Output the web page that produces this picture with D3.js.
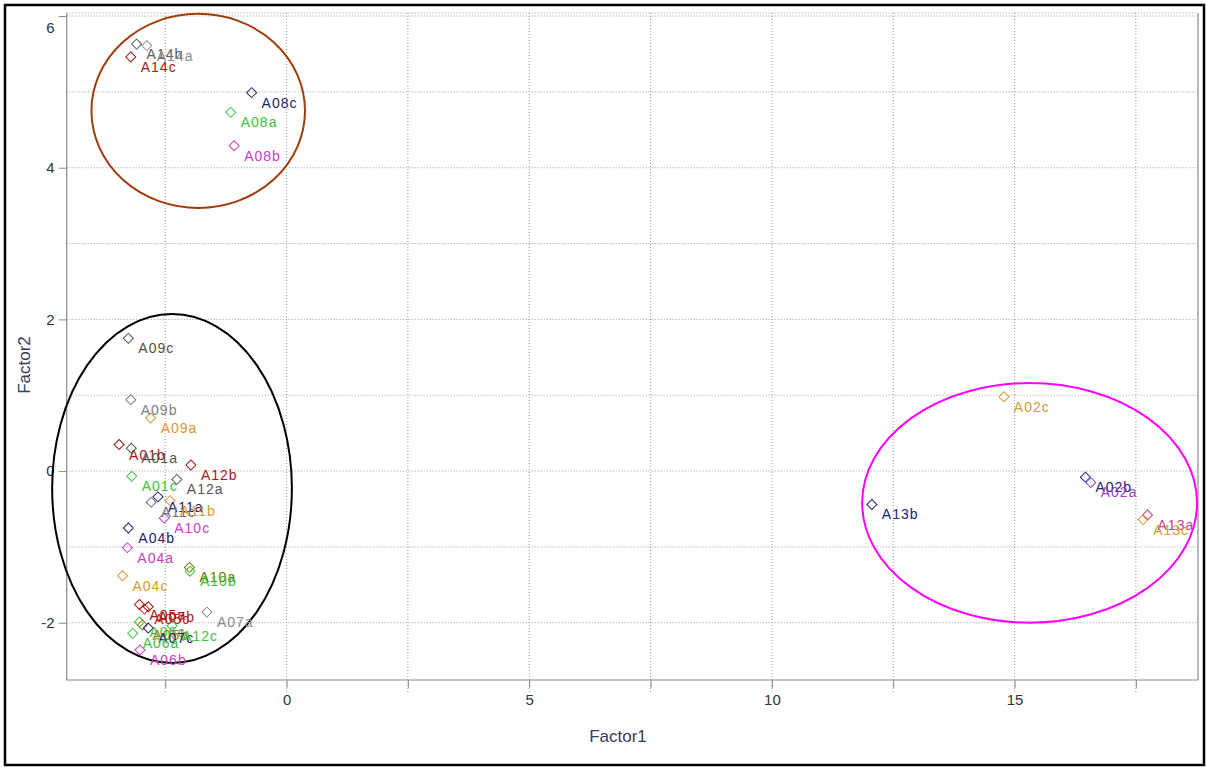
<!DOCTYPE html>
<html>
<head>
<meta charset="utf-8">
<script src="https://cdn.jsdelivr.net/npm/d3@7"></script>
<style>
  body { margin: 0; background: #fff; }
  svg { display: block; font-family: "Liberation Sans", Arial, sans-serif; }
  .ptLabel { font-size: 14px; letter-spacing: 1px; }
  .axis text { font-size: 15px; fill: #333; }
  .axisLabel { font-size: 17px; fill: #3a3a55; }
</style>
</head>
<body>
<div id="chart"></div>
<script>
// ##################################
// Factor scores scatter (Factor1 vs Factor2)
// ##################################

// Sample names, scores and colours
const names = ["A14b", "A14a", "A14c", "A08c", "A08a", "A08b",
               "A09c", "A09b", "A09a", "A01b", "A01a", "A12b", "A12a", "A01c",
               "A11a", "A11c", "A11b", "A10c", "A04b", "A04a", "A04c", "A10a", "A10b",
               "A07a", "A05a", "A05c", "A07b", "A06c", "A05b", "A07c", "A12c", "A06a", "A06b",
               "A02c", "A13b", "A02b", "A02a", "A13a", "A13c"];
const factor1 = [-3.09, -2.88, -3.21, -0.72, -1.15, -1.08,
                 -3.26, -3.21, -2.80, -3.45, -3.20, -1.97, -2.26, -3.19,
                 -2.65, -2.79, -2.40, -2.52, -3.26, -3.28, -3.38, -2.00, -1.99,
                 -1.64, -3.03, -2.93, -2.85, -3.03, -2.97, -2.85, -2.36, -3.17, -3.02,
                 14.78, 12.06, 16.46, 16.57, 17.74, 17.65];
const factor2 = [5.63, 5.61, 5.46, 4.99, 4.73, 4.29,
                 1.75, 0.94, 0.70, 0.35, 0.30, 0.08, -0.11, -0.07,
                 -0.34, -0.41, -0.39, -0.62, -0.75, -1.01, -1.38, -1.27, -1.32,
                 -1.86, -1.76, -1.82, -1.79, -1.99, -2.03, -2.07, -2.04, -2.14, -2.36,
                 0.98, -0.44, -0.08, -0.15, -0.58, -0.64];
const colors = ["#5a5a5a", "#8a8a8a", "#a01818", "#22226e", "#3cc43c", "#c83cc8",
                "#5a4a4a", "#808080", "#d89a2a", "#a01818", "#555555", "#a01818", "#555555", "#3cc43c",
                "#22226e", "#707070", "#d89a2a", "#c83cc8", "#22226e", "#c83cc8", "#d89a2a", "#707000", "#3cc43c",
                "#8a8a8a", "#a01818", "#d02020", "#a01818", "#3cc43c", "#a08020", "#22226e", "#3cc43c", "#3cc43c", "#c83cc8",
                "#d09a40", "#22226e", "#22226e", "#a040c0", "#c04090", "#d89a2a"];

// Highlight ellipses (centre and radii in factor units)
const ellCx = [-1.82, -2.36, 15.31];
const ellCy = [4.75, -0.23, -0.42];
const ellRx = [2.20, 2.47, 3.45];
const ellRy = [1.28, 2.30, 1.58];
const ellColors = ["#a03c0a", "#000000", "#ff00ff"];

// Axis ticks and grid
const xTicks = [-2.5, 0, 2.5, 5, 7.5, 10, 12.5, 15, 17.5];
const xTickLabels = ["", "0", "", "5", "", "10", "", "15", ""];
const yTicks = [-2, 0, 2, 4, 6];
const yTickLabels = ["-2", "0", "2", "4", "6"];
const yGrid = [-2, -1, 0, 1, 2, 3, 4, 5, 6];

const data = names.map((n, i) => ({name: n, x: factor1[i], y: factor2[i], color: colors[i]}));

// Store values for svg creation
const w = 1207;
const h = 767;
const plotLeft = 66.7;
const plotRight = 1198;
const plotTop = 13;
const plotBottom = 680;

let svg = d3.select("#chart")
              .append("svg")
              .attr("width", w)
              .attr("height", h);

// outer black frame
svg.append("rect")
    .attr("x", 5).attr("y", 5)
    .attr("width", 1199).attr("height", 760)
    .attr("fill", "none")
    .attr("stroke", "#000")
    .attr("stroke-width", 2.5);

const xScale = d3.scaleLinear()
                 .domain([-4.53, 18.78])
                 .range([plotLeft, plotRight]);

const yScale = d3.scaleLinear()
                 .domain([-2.755, 6.04])
                 .range([plotBottom, plotTop]);

// Dotted grid
svg.append("g")
    .selectAll("line")
    .data(xTicks)
    .join("line")
        .attr("x1", d => xScale(d)).attr("x2", d => xScale(d))
        .attr("y1", plotTop).attr("y2", plotBottom + 12)
        .attr("stroke", "#9a9a9a")
        .attr("stroke-dasharray", "1,2");

svg.append("g")
    .selectAll("line")
    .data(yGrid)
    .join("line")
        .attr("x1", plotLeft).attr("x2", plotRight)
        .attr("y1", d => yScale(d)).attr("y2", d => yScale(d))
        .attr("stroke", "#9a9a9a")
        .attr("stroke-dasharray", "1,2");

// top edge is dotted too
svg.append("line")
    .attr("x1", plotLeft).attr("x2", plotRight)
    .attr("y1", plotTop).attr("y2", plotTop)
    .attr("stroke", "#9a9a9a")
    .attr("stroke-dasharray", "1,2");

// Frame: left, bottom, right
svg.append("path")
    .attr("d", `M${plotLeft},${plotTop}V${plotBottom}H${plotRight}V${plotTop}`)
    .attr("fill", "none")
    .attr("stroke", "#8c8c8c")
    .attr("stroke-width", 1.2);

// Add x axis
const xAxis = d3.axisBottom(xScale)
                .tickValues(xTicks)
                .tickFormat((d, i) => xTickLabels[i])
                .tickSize(8)
                .tickPadding(6);

svg.append("g")
    .attr("class", "axis")
    .attr("transform", "translate(0," + plotBottom + ")")
    .call(xAxis)
    .call(g => g.select(".domain").remove())
    .call(g => g.selectAll(".tick line").attr("stroke", "#8c8c8c"));

// Add y axis
const yAxis = d3.axisLeft(yScale)
                .tickValues(yTicks)
                .tickFormat((d, i) => yTickLabels[i])
                .tickSize(8)
                .tickPadding(4);

svg.append("g")
    .attr("class", "axis")
    .attr("transform", "translate(" + plotLeft + ",0)")
    .call(yAxis)
    .call(g => g.select(".domain").remove())
    .call(g => g.selectAll(".tick line").attr("stroke", "#8c8c8c"))
    // top label sits a bit lower in the original
    .call(g => g.selectAll(".tick text").filter(d => d === 6).attr("dy", "1.1em"));

// Ellipses
svg.append("g")
    .selectAll("ellipse")
    .data(ellCx)
    .join("ellipse")
        .attr("cx", d => xScale(d))
        .attr("cy", (d, i) => yScale(ellCy[i]))
        .attr("rx", (d, i) => xScale(ellRx[i]) - xScale(0))
        .attr("ry", (d, i) => yScale(0) - yScale(ellRy[i]))
        .attr("fill", "none")
        .attr("stroke", (d, i) => ellColors[i])
        .attr("stroke-width", 2);

// Point markers (open diamonds)
const diamond = d3.symbol().type(d3.symbolSquare).size(50);

svg.append("g")
    .selectAll("path")
    .data(data)
    .join("path")
        .attr("d", diamond)
        .attr("transform", d => "translate(" + xScale(d.x) + "," + yScale(d.y) + ") rotate(45)")
        .attr("fill", "none")
        .attr("stroke", d => d.color)
        .attr("stroke-width", 1);

// Point labels
svg.append("g")
    .selectAll("text")
    .data(data)
    .join("text")
        .attr("class", "ptLabel")
        .attr("x", d => xScale(d.x) + 10)
        .attr("y", d => yScale(d.y) + 15)
        .attr("fill", d => d.color)
        .text(d => d.name);

// Axis labels
svg.append("text")
    .attr("class", "axisLabel")
    .attr("x", 618)
    .attr("y", 742)
    .attr("text-anchor", "middle")
    .text("Factor1");

svg.append("text")
    .attr("class", "axisLabel")
    .attr("transform", "translate(30,365) rotate(-90)")
    .attr("text-anchor", "middle")
    .text("Factor2");
</script>
</body>
</html>
